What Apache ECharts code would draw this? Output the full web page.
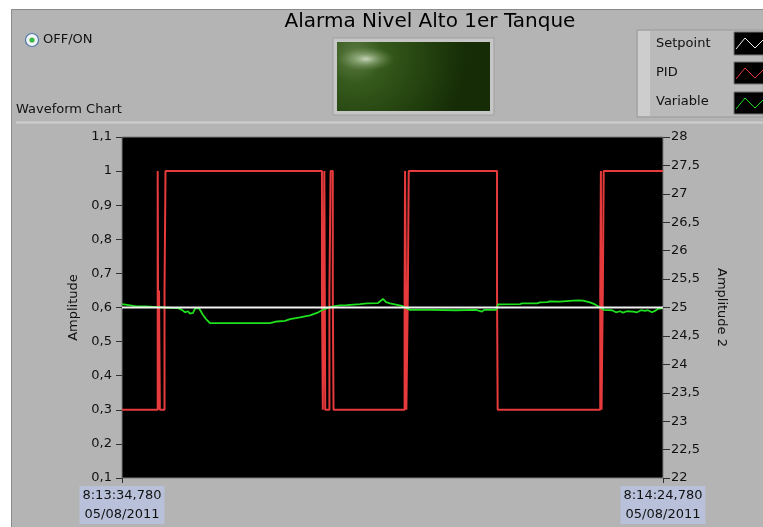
<!DOCTYPE html>
<html>
<head>
<meta charset="utf-8">
<script src="https://cdn.jsdelivr.net/npm/echarts@6/dist/echarts.min.js"></script>
<style>
  html, body { margin: 0; padding: 0; background: #fff; }
  #main { width: 763px; height: 527px; }
</style>
</head>
<body>
<div id="main"></div>
<script>
// seconds since 8:13:34,780
var pidTime = [0, 3.30, 3.30, 3.36, 3.36, 3.42, 3.42, 3.50, 3.50, 3.93, 3.93, 4.02, 4.02,
  18.48, 18.48, 18.56, 18.56, 18.70, 18.70, 18.78, 18.78, 19.17, 19.17, 19.28, 19.28,
  19.48, 19.48, 19.55, 19.55,
  26.12, 26.12, 26.16, 26.16, 26.24, 26.24, 26.28, 26.28, 26.42, 26.42, 26.50, 26.50,
  34.66, 34.66, 34.72, 34.72,
  44.20, 44.20, 44.26, 44.26, 44.32, 44.32, 44.44, 44.44, 44.52, 44.52, 50];
var pidValue = [0.3, 0.3, 1.0, 1.0, 0.3, 0.3, 0.65, 0.65, 0.3, 0.3, 0.65, 0.65, 1.0,
  1.0, 0.65, 0.65, 0.3, 0.3, 1.0, 1.0, 0.3, 0.3, 0.65, 0.65, 1.0,
  1.0, 0.65, 0.65, 0.3,
  0.3, 0.65, 0.65, 1.0, 1.0, 0.65, 0.65, 0.3, 0.3, 0.65, 0.65, 1.0,
  1.0, 0.65, 0.65, 0.3,
  0.3, 0.65, 0.65, 1.0, 1.0, 0.3, 0.3, 0.65, 0.65, 1.0, 1.0];

var varTime = [0, 0.46, 1.20, 2.13, 2.87, 3.97, 5.18, 5.55, 5.82, 6.10, 6.28, 6.56, 6.75, 7.12,
  7.49, 7.76, 7.95, 8.13, 9.98, 11.83, 13.31, 13.49, 13.68, 13.86, 14.33, 15.06, 15.53,
  16.45, 17.38, 18.02, 18.48, 18.95, 19.50, 20.15, 20.79, 22.00, 22.64, 23.66, 24.12,
  24.40, 24.77, 25.42, 25.88, 26.16, 26.62, 28.47, 30.87, 30.96, 31.05, 32.72, 32.90,
  33.27, 33.46, 34.57, 34.75, 36.78, 36.97, 38.35, 38.63, 39.28, 39.56, 40.48, 41.68,
  42.14, 42.61, 43.25, 43.72, 44.18, 44.55, 45.29, 45.66, 46.03, 46.30, 46.67, 47.23,
  47.60, 47.97, 48.34, 48.61, 48.98, 49.26, 49.54, 50];
var varValue = [0.610, 0.608, 0.604, 0.603, 0.602, 0.600, 0.598, 0.593, 0.586, 0.589, 0.582,
  0.584, 0.597, 0.598, 0.578, 0.566, 0.560, 0.554, 0.554, 0.554, 0.554, 0.557, 0.554,
  0.558, 0.559, 0.561, 0.566, 0.571, 0.577, 0.584, 0.592, 0.598, 0.603, 0.606, 0.607,
  0.610, 0.612, 0.613, 0.625, 0.616, 0.612, 0.608, 0.605, 0.600, 0.593, 0.593, 0.592,
  0.589, 0.593, 0.593, 0.588, 0.588, 0.593, 0.593, 0.609, 0.610, 0.612, 0.612, 0.615,
  0.616, 0.618, 0.617, 0.620, 0.621, 0.620, 0.615, 0.609, 0.600, 0.593, 0.592, 0.586,
  0.589, 0.585, 0.589, 0.588, 0.586, 0.592, 0.590, 0.592, 0.586, 0.590, 0.596, 0.598];

var setpointTime = [0, 50];
var setpointValue = [0.6, 0.6];

var leftTicks = ['0,1', '0,2', '0,3', '0,4', '0,5', '0,6', '0,7', '0,8', '0,9', '1', '1,1'];
var rightTicks = ['22', '22,5', '23', '23,5', '24', '24,5', '25', '25,5', '26', '26,5', '27', '27,5', '28'];
var timeTicks = ['8:13:34,780\n05/08/2011', '8:14:24,780\n05/08/2011'];

function pairs(t, v) {
  return t.map(function (x, i) { return [x, v[i]]; });
}

var font = 'DejaVu Sans';
var chart = echarts.init(document.getElementById('main'));

var option = {
  backgroundColor: '#b4b4b4',
  animation: false,
  textStyle: { fontFamily: font },
  grid: { left: 122, top: 137, width: 541, height: 341, show: true,
    backgroundColor: '#000', borderColor: '#7c7c7c', borderWidth: 1 },
  xAxis: {
    type: 'value', min: 0, max: 50, interval: 50,
    axisLine: { show: false },
    splitLine: { show: false },
    axisTick: { length: 5, lineStyle: { color: '#303030' } },
    axisLabel: {
      color: '#111', fontSize: 13, lineHeight: 19, margin: 8,
      backgroundColor: '#b8c1d9', padding: [0, 3],
      formatter: function (v) { return timeTicks[Math.round(v / 50)]; }
    }
  },
  yAxis: [
    {
      type: 'value', min: 0.1, max: 1.1, interval: 0.1, position: 'left',
      name: 'Amplitude', nameLocation: 'middle', nameGap: 42,
      nameTextStyle: { color: '#111', fontSize: 13 },
      axisLine: { show: false }, splitLine: { show: false },
      axisTick: { show: true, length: 6, lineStyle: { color: '#303030' } },
      axisLabel: { color: '#111', fontSize: 13, margin: 10,
        formatter: function (v) { return leftTicks[Math.round((v - 0.1) / 0.1)]; } }
    },
    {
      type: 'value', min: 22, max: 28, interval: 0.5, position: 'right',
      name: 'Amplitude 2', nameLocation: 'middle', nameGap: 52, nameRotate: -90,
      nameTextStyle: { color: '#111', fontSize: 13 },
      axisLine: { show: false }, splitLine: { show: false },
      axisTick: { show: true, length: 7, lineStyle: { color: '#303030' } },
      axisLabel: { color: '#111', fontSize: 13, margin: 8,
        formatter: function (v) { return rightTicks[Math.round((v - 22) / 0.5)]; } }
    }
  ],
  series: [
    { name: 'PID', type: 'line', data: pairs(pidTime, pidValue), showSymbol: false,
      lineStyle: { color: '#e63a3c', width: 2 } },
    { name: 'Variable', type: 'line', data: pairs(varTime, varValue), showSymbol: false,
      lineStyle: { color: '#1ee01e', width: 1.8 } },
    { name: 'Setpoint', type: 'line', data: pairs(setpointTime, setpointValue), showSymbol: false,
      lineStyle: { color: '#f2f2f2', width: 2 } }
  ],
  graphic: [
    // white margin outside the panel
    { type: 'rect', shape: { x: 0, y: 0, width: 763, height: 9 }, style: { fill: '#fff' } },
    { type: 'rect', shape: { x: 0, y: 0, width: 11, height: 527 }, style: { fill: '#fff' } },
    { type: 'polyline', shape: { points: [[11.5, 527], [11.5, 9.5], [763, 9.5]] },
      style: { stroke: '#8a8a8a', fill: null, lineWidth: 1 } },
    { type: 'line', shape: { x1: 16, y1: 122.5, x2: 763, y2: 122.5 }, style: { stroke: '#cfcfcf', lineWidth: 2 } },
    // title
    { type: 'text', style: { text: 'Alarma Nivel Alto 1er Tanque', x: 430, y: 22,
      align: 'center', verticalAlign: 'middle', font: '20px "DejaVu Sans"', fill: '#000' } },
    // OFF/ON radio
    { type: 'circle', shape: { cx: 32, cy: 40, r: 6.5 }, style: { fill: '#f2f4f6', stroke: '#4d79b0', lineWidth: 1.2 } },
    { type: 'circle', shape: { cx: 32, cy: 40, r: 2.6 }, style: { fill: '#3cb84a' } },
    { type: 'text', style: { text: 'OFF/ON', x: 43, y: 40, verticalAlign: 'middle', font: '13px "DejaVu Sans"', fill: '#111' } },
    { type: 'text', style: { text: 'Waveform Chart', x: 16, y: 110, verticalAlign: 'middle', font: '13px "DejaVu Sans"', fill: '#111' } },
    // LED
    { type: 'rect', shape: { x: 333, y: 38, width: 161, height: 77 }, style: { fill: '#c6c6c6', stroke: '#a0a0a0' } },
    { type: 'rect', shape: { x: 337, y: 42, width: 153, height: 69 },
      style: { fill: { type: 'radial', x: 0.12, y: 0.2, r: 1.6, colorStops: [
        { offset: 0, color: '#5e7d46' }, { offset: 0.25, color: '#365a1d' },
        { offset: 0.7, color: '#213f0d' }, { offset: 1, color: '#162c06' }] } } },
    { type: 'circle', x: 366, y: 59, scaleX: 2.4, scaleY: 1, shape: { cx: 0, cy: 0, r: 12 },
      style: { fill: { type: 'radial', x: 0.5, y: 0.5, r: 0.5, colorStops: [
        { offset: 0, color: 'rgba(220,230,210,0.85)' }, { offset: 0.45, color: 'rgba(170,195,150,0.45)' },
        { offset: 1, color: 'rgba(120,150,90,0)' }] } } },
    // legend
    { type: 'rect', shape: { x: 637, y: 30, width: 126, height: 87 }, style: { fill: '#bababa', stroke: '#9a9a9a' } },
    { type: 'rect', shape: { x: 638, y: 31, width: 12, height: 85 }, style: { fill: '#cdcdcd' } },
    { type: 'text', style: { text: 'Setpoint', x: 656, y: 44, verticalAlign: 'middle', font: '13px "DejaVu Sans"', fill: '#111' } },
    { type: 'text', style: { text: 'PID', x: 656, y: 73, verticalAlign: 'middle', font: '13px "DejaVu Sans"', fill: '#111' } },
    { type: 'text', style: { text: 'Variable', x: 656, y: 102, verticalAlign: 'middle', font: '13px "DejaVu Sans"', fill: '#111' } },
    { type: 'rect', shape: { x: 734, y: 32, width: 30, height: 23 }, style: { fill: '#000', stroke: '#777' } },
    { type: 'rect', shape: { x: 734, y: 62, width: 30, height: 22 }, style: { fill: '#000', stroke: '#777' } },
    { type: 'rect', shape: { x: 734, y: 92, width: 30, height: 22 }, style: { fill: '#000', stroke: '#777' } },
    { type: 'polyline', shape: { points: [[736, 49], [745, 38], [755, 48], [763, 40]] }, style: { stroke: '#f0f0f0', fill: null, lineWidth: 1 } },
    { type: 'polyline', shape: { points: [[736, 79], [745, 68], [755, 78], [763, 70]] }, style: { stroke: '#e63a3c', fill: null, lineWidth: 1 } },
    { type: 'polyline', shape: { points: [[736, 109], [745, 98], [755, 108], [763, 100]] }, style: { stroke: '#1ee01e', fill: null, lineWidth: 1 } }
  ]
};

chart.setOption(option);
</script>
</body>
</html>
